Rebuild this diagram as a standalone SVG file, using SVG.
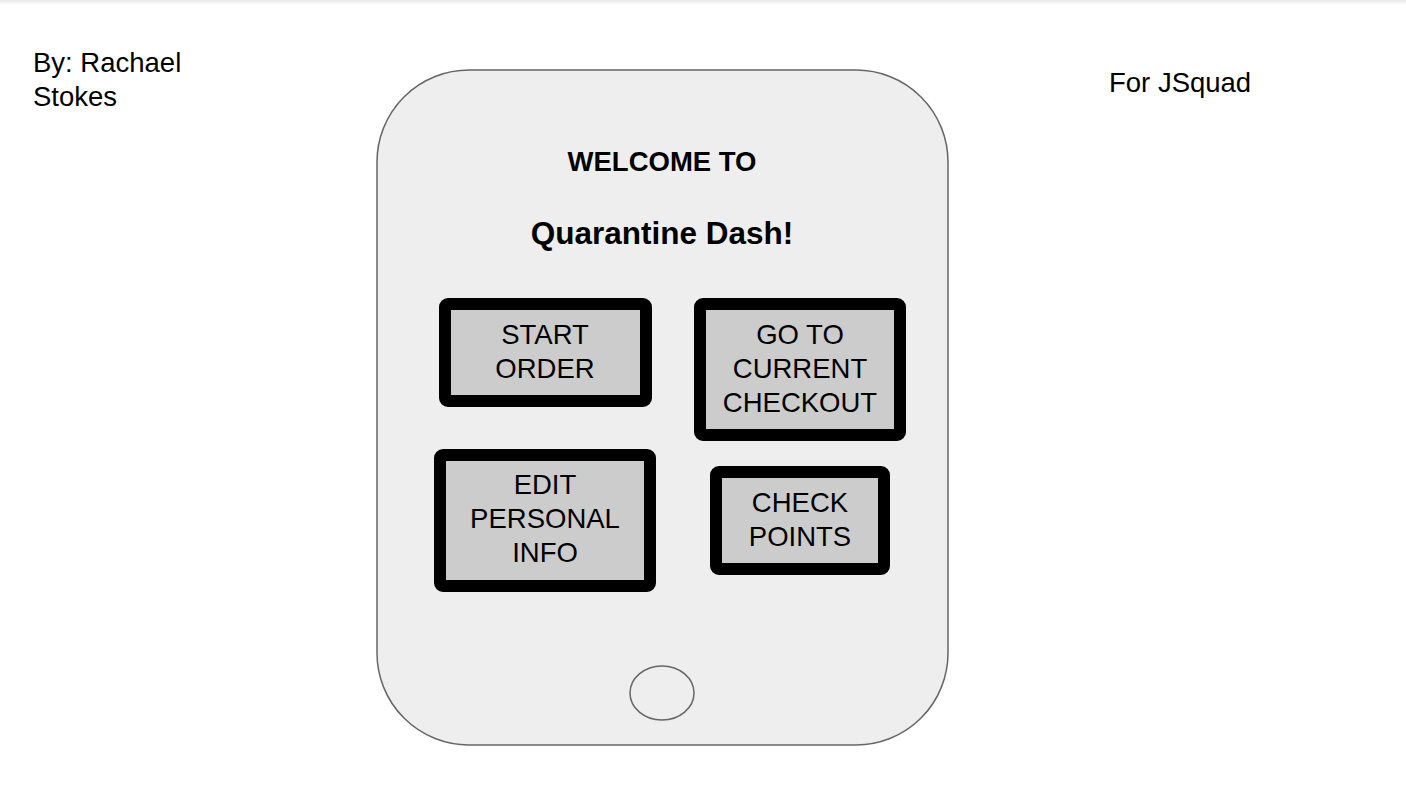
<svg xmlns="http://www.w3.org/2000/svg" width="1406" height="797" viewBox="0 0 1406 797">
  <defs>
    <linearGradient id="topShade" x1="0" y1="0" x2="0" y2="1">
      <stop offset="0" stop-color="#e8e8e8"/>
      <stop offset="1" stop-color="#ffffff"/>
    </linearGradient>
  </defs>
  <style>
    .lbl { font-family: "Liberation Sans", Arial, sans-serif; font-size: 27.5px; fill: #000; }
    .btn { fill: #cccccc; stroke: #000; stroke-width: 12; }
    .c { text-anchor: middle; }
    .b { font-weight: bold; }
  </style>
  <rect x="0" y="0" width="1406" height="797" fill="#ffffff"/>
  <rect x="0" y="0" width="1406" height="5" fill="url(#topShade)"/>

  <g id="author">
    <text class="lbl" x="33" y="72">By: Rachael</text>
    <text class="lbl" x="33" y="106">Stokes</text>
  </g>
  <g id="client">
    <text class="lbl" x="1109" y="92">For JSquad</text>
  </g>

  <g id="phone">
    <rect x="377" y="70" width="571" height="675" rx="92" ry="92" fill="#eeeeee" stroke="#666666" stroke-width="1.5"/>
    <ellipse cx="662" cy="693" rx="32" ry="27" fill="#eeeeee" stroke="#666666" stroke-width="1.5"/>
  </g>

  <g id="title">
    <text class="lbl b c" x="662" y="171" style="font-size:27.5px">WELCOME TO</text>
    <text class="lbl b c" x="662" y="244" style="font-size:31.5px">Quarantine Dash!</text>
  </g>

  <g id="start-order">
    <rect class="btn" x="445" y="304" width="201" height="97" rx="3"/>
    <text class="lbl c" x="545" y="344">START</text>
    <text class="lbl c" x="545" y="378">ORDER</text>
  </g>

  <g id="current-checkout">
    <rect class="btn" x="700" y="304" width="200" height="131" rx="3"/>
    <text class="lbl c" x="800" y="344">GO TO</text>
    <text class="lbl c" x="800" y="378">CURRENT</text>
    <text class="lbl c" x="800" y="412">CHECKOUT</text>
  </g>

  <g id="edit-personal-info">
    <rect class="btn" x="440" y="455" width="210" height="131" rx="3"/>
    <text class="lbl c" x="545" y="494">EDIT</text>
    <text class="lbl c" x="545" y="528">PERSONAL</text>
    <text class="lbl c" x="545" y="562">INFO</text>
  </g>

  <g id="check-points">
    <rect class="btn" x="716" y="472" width="168" height="97" rx="3"/>
    <text class="lbl c" x="800" y="512">CHECK</text>
    <text class="lbl c" x="800" y="546">POINTS</text>
  </g>

  <g id="connectors"></g>
</svg>
